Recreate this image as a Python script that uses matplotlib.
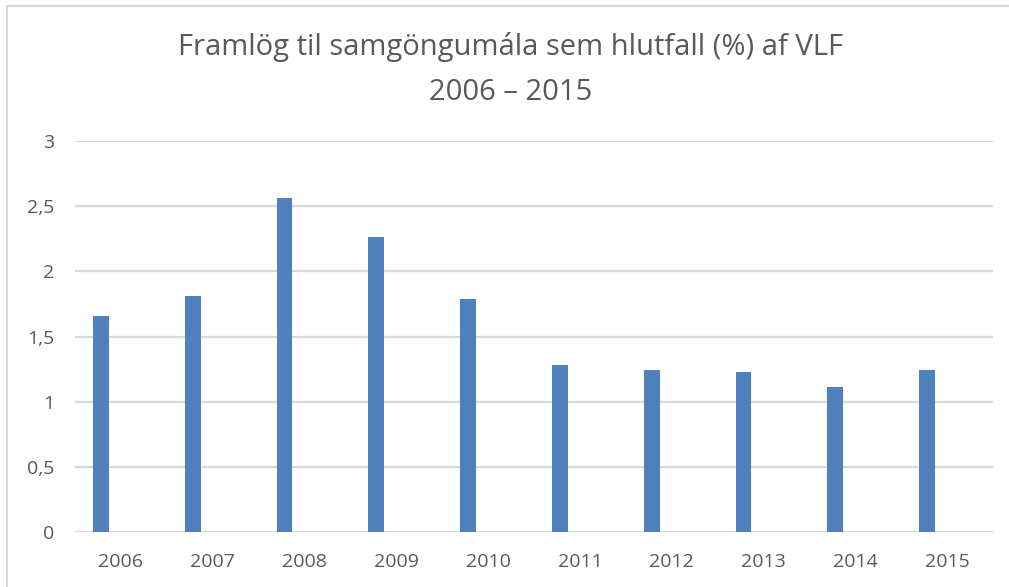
import matplotlib.pyplot as plt
from matplotlib.lines import Line2D
import numpy as np

# data
years = ['2006', '2007', '2008', '2009', '2010', '2011', '2012', '2013', '2014', '2015']
values = [1.66, 1.81, 2.56, 2.26, 1.79, 1.28, 1.24, 1.23, 1.11, 1.24]
yticks = [0, 0.5, 1, 1.5, 2, 2.5, 3]
ytick_labels = ['0', '0,5', '1', '1,5', '2', '2,5', '3']

plt.rcParams['font.family'] = ['Open Sans', 'DejaVu Sans']

fig = plt.figure(figsize=(10.09, 5.87), dpi=100)
ax = fig.add_axes([75/1009, 1 - 532/587, (993 - 75)/1009, (532 - 141)/587])

x = np.arange(len(years))
# excel style: bar sits left of the category centre
ax.bar(x - 0.218, values, width=0.174, color='#4f81bd', zorder=3)

ax.set_xlim(-0.5, len(years) - 0.5)
ax.set_ylim(0, 3)
ax.set_yticks(yticks)
ax.set_yticklabels(ytick_labels)
ax.set_xticks(x)
ax.set_xticklabels(years)
ax.tick_params(axis='both', length=0, labelsize=14, colors='#595959')
ax.tick_params(axis='y', pad=15)
ax.tick_params(axis='x', pad=15)

ax.grid(axis='y', color='#d9d9d9', linewidth=1.6, zorder=0)
for s in ax.spines.values():
    s.set_visible(False)

fig.text(0.506, 0.920, 'Framlög til samgöngumála sem hlutfall (%) af VLF',
         ha='center', va='center', fontsize=21, color='#595959')
fig.text(0.506, 0.843, '2006 – 2015', ha='center', va='center',
         fontsize=21, color='#595959')

# chart frame (only top and left visible in the crop)
fig.add_artist(Line2D([7/1009, 7/1009], [0, 1 - 6/587], transform=fig.transFigure,
                      color='#d9d9d9', linewidth=1.5))
fig.add_artist(Line2D([7/1009, 1], [1 - 6/587, 1 - 6/587], transform=fig.transFigure,
                      color='#d9d9d9', linewidth=1.5))

fig.savefig('out.png', dpi=100)
